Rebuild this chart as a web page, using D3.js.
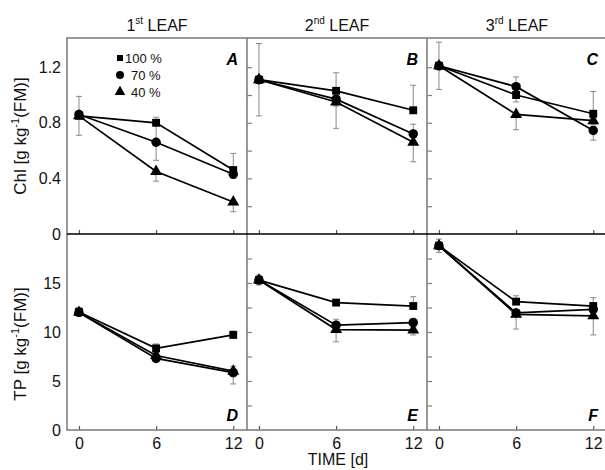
<!DOCTYPE html>
<html>
<head>
<meta charset="utf-8">
<script src="https://cdn.jsdelivr.net/npm/d3@7"></script>
<style>
    body { margin: 0; background: #fff; }
    svg { display: block; font-family: "Liberation Sans", Arial, sans-serif; }
</style>
</head>
<body>
<div id="chart"></div>
<script>
(function()
{

    var days = [0, 6, 12],
        series = ['100 %', '70 %', '40 %'],
        symbols = ['square', 'circle', 'triangle'],
        leafNum = ['1', '2', '3'],
        leafSup = ['st', 'nd', 'rd'],
        letters = ['A', 'B', 'C', 'D', 'E', 'F'];

    // Chl [g kg-1 (FM)], rows = 100 %, 70 %, 40 %
    var chlA = [[0.85, 0.80, 0.46], [0.86, 0.66, 0.43], [0.85, 0.45, 0.23]],
        chlB = [[1.11, 1.03, 0.89], [1.11, 0.97, 0.72], [1.11, 0.95, 0.66]],
        chlC = [[1.21, 1.00, 0.865], [1.21, 1.06, 0.745], [1.21, 0.86, 0.815]],
        chlAErr = [[0.14, 0.04, 0.12], [0, 0.13, 0.03], [0, 0.07, 0.07]],
        chlBErr = [[0.26, 0.13, 0.18], [0, 0.05, 0.07], [0, 0.19, 0.14]],
        chlCErr = [[0.17, 0.05, 0.16], [0, 0.07, 0.07], [0, 0.11, 0.03]];

    // TP [g kg-1 (FM)]
    var tpD = [[12.05, 8.33, 9.7], [12.0, 7.3, 5.85], [12.0, 7.6, 6.0]],
        tpE = [[15.3, 13.0, 12.65], [15.3, 10.7, 10.95], [15.3, 10.25, 10.2]],
        tpF = [[18.8, 13.1, 12.65], [18.8, 11.95, 12.3], [18.8, 11.8, 11.65]],
        tpDErr = [[0.45, 0.45, 0.4], [0, 0.26, 1.15], [0, 0.3, 0.5]],
        tpEErr = [[0.5, 0.2, 0.95], [0, 0.6, 0.45], [0, 1.25, 0.5]],
        tpFErr = [[0.68, 0.6, 0.85], [0, 0.3, 0.3], [0, 1.5, 1.95]];

    var chlTicks = [0, 0.4, 0.8, 1.2],
        chlMinor = [0.2, 0.4, 0.6, 0.8, 1.0, 1.2],
        tpTicks = [0, 5, 10, 15],
        tpMinor = [2.5, 5, 7.5, 10, 12.5, 15, 17.5];

    var rows = [
        { data : [chlA, chlB, chlC], err : [chlAErr, chlBErr, chlCErr], max : 1.41, ticks : chlTicks, minor : chlMinor, title : 'Chl', labelY : 136 },
        { data : [tpD, tpE, tpF], err : [tpDErr, tpEErr, tpFErr], max : 20, ticks : tpTicks, minor : tpMinor, title : 'TP', labelY : 344 }
    ];

    var W = 605, H = 470,
        left = 67, top = 38, pw = 180, ph = 196,
        frame = '#808080';

    var svg = d3.select('#chart').append('svg').attr('width', W).attr('height', H);

    var sym = {
        square : d3.symbol().type(d3.symbolSquare).size(62),
        circle : d3.symbol().type(d3.symbolCircle).size(70),
        triangle : d3.symbol().type(d3.symbolTriangle).size(62)
    };

    // column titles
    leafNum.forEach(function(n, c)
    {
        var t = svg.append('text')
            .attr('x', left + pw * c + pw / 2)
            .attr('y', 31)
            .attr('text-anchor', 'middle')
            .attr('font-size', 16)
            .attr('fill', '#111');
        t.append('tspan').text(n);
        t.append('tspan').attr('font-size', 10).attr('dy', -7).text(leafSup[c]);
        t.append('tspan').attr('dy', 7).text(' LEAF');
    });

    rows.forEach(function(row, r)
    {
        var y0 = top + ph * r,
            y = d3.scaleLinear().domain([0, row.max]).range([y0 + ph, y0]);

        // y axis title
        var yt = svg.append('text')
            .attr('transform', 'translate(26,' + row.labelY + ') rotate(-90)')
            .attr('text-anchor', 'middle')
            .attr('font-size', 17)
            .attr('fill', '#111');
        yt.append('tspan').text(row.title + ' [g kg');
        yt.append('tspan').attr('font-size', 11).attr('dy', -7).text('-1');
        yt.append('tspan').attr('dy', 7).text('(FM)]');

        // left labels
        svg.append('g')
            .attr('transform', 'translate(' + left + ',0)')
            .call(d3.axisLeft(y).tickValues(row.ticks).tickSize(0).tickPadding(6).tickFormat(function(d)
            {
                return d;
            }))
            .call(function(g)
            {
                g.select('.domain').remove();
                g.selectAll('text').attr('font-size', 16).attr('fill', '#111').attr('font-family', null);
            });

        row.data.forEach(function(panel, c)
        {
            var x0 = left + pw * c,
                x = d3.scaleLinear().domain([-0.93, 13.07]).range([x0, x0 + pw]),
                errs = row.err[c],
                g = svg.append('g');

            // inner y ticks
            if (c > 0) {
                g.append('g')
                    .attr('transform', 'translate(' + x0 + ',0)')
                    .call(d3.axisRight(y).tickValues(row.minor).tickSize(5).tickFormat(''))
                    .call(function(a)
                    {
                        a.select('.domain').remove();
                        a.selectAll('line').attr('stroke', frame).attr('stroke-width', 1.2);
                    });
            }

            // x ticks
            g.append('g')
                .attr('transform', 'translate(0,' + (y0 + ph) + ')')
                .call(d3.axisBottom(x).tickValues(days).tickSizeInner(-4).tickSizeOuter(0).tickPadding(8)
                    .tickFormat(r === 1 ? function(d) { return d; } : ''))
                .call(function(a)
                {
                    a.select('.domain').remove();
                    a.selectAll('line').attr('stroke', '#555').attr('stroke-width', 1.2);
                    a.selectAll('text').attr('font-size', 16).attr('fill', '#111').attr('font-family', null);
                });

            // error bars
            panel.forEach(function(vals, s)
            {
                vals.forEach(function(v, i)
                {
                    var e = errs[s][i];
                    if (!e) return;
                    var col = panel.map(function(p) { return p[i]; }),
                        hi = v, lo = v;
                    if (i === 0 || (v !== d3.max(col) && v !== d3.min(col))) {
                        hi = v + e; lo = v - e;
                    } else if (v === d3.max(col)) {
                        hi = v + e;
                    } else {
                        lo = v - e;
                    }
                    var xx = x(days[i]);
                    g.append('line').attr('x1', xx).attr('x2', xx).attr('y1', y(hi)).attr('y2', y(lo))
                        .attr('stroke', '#888').attr('stroke-width', 1);
                    [hi, lo].forEach(function(b)
                    {
                        if (b === v) return;
                        g.append('line').attr('x1', xx - 3).attr('x2', xx + 3).attr('y1', y(b)).attr('y2', y(b))
                            .attr('stroke', '#888').attr('stroke-width', 1);
                    });
                });
            });

            // lines
            var line = d3.line()
                .x(function(d, i) { return x(days[i]); })
                .y(function(d) { return y(d); });

            panel.forEach(function(vals)
            {
                g.append('path').attr('d', line(vals))
                    .attr('fill', 'none').attr('stroke', '#000').attr('stroke-width', 1.7);
            });

            // markers
            panel.forEach(function(vals, s)
            {
                g.selectAll(null).data(vals).enter().append('path')
                    .attr('d', sym[symbols[s]])
                    .attr('transform', function(d, i)
                    {
                        return 'translate(' + x(days[i]) + ',' + y(d) + ')';
                    })
                    .attr('fill', '#000');
            });

            // panel letter
            g.append('text')
                .attr('x', x0 + pw - 9)
                .attr('y', r === 0 ? y0 + 27 : y0 + ph - 9)
                .attr('text-anchor', 'end')
                .attr('font-size', 16)
                .attr('font-weight', 'bold')
                .attr('font-style', 'italic')
                .text(letters[r * 3 + c]);
        });
    });

    // frame
    svg.append('rect')
        .attr('x', left).attr('y', top).attr('width', pw * 3).attr('height', ph * 2)
        .attr('fill', 'none').attr('stroke', frame).attr('stroke-width', 1.6);
    [1, 2].forEach(function(c)
    {
        svg.append('line')
            .attr('x1', left + pw * c).attr('x2', left + pw * c)
            .attr('y1', top).attr('y2', top + ph * 2)
            .attr('stroke', frame).attr('stroke-width', 1.6);
    });
    svg.append('line')
        .attr('x1', left).attr('x2', left + pw * 3)
        .attr('y1', top + ph).attr('y2', top + ph)
        .attr('stroke', '#000').attr('stroke-width', 1.4);

    // legend
    var leg = svg.append('g');
    series.forEach(function(name, s)
    {
        leg.append('path')
            .attr('d', d3.symbol().type([d3.symbolSquare, d3.symbolCircle, d3.symbolTriangle][s]).size(s === 0 ? 36 : 50)())
            .attr('transform', 'translate(120,' + (58 + s * 17) + ')')
            .attr('fill', '#000');
        leg.append('text')
            .attr('x', s === 0 ? 125 : 131)
            .attr('y', 63 + s * 17)
            .attr('font-size', 13)
            .attr('fill', '#111')
            .text(name);
    });

    // x title
    svg.append('text')
        .attr('x', 338).attr('y', 465)
        .attr('text-anchor', 'middle')
        .attr('font-size', 16)
        .attr('fill', '#111')
        .text('TIME [d]');

})();
</script>
</body>
</html>
